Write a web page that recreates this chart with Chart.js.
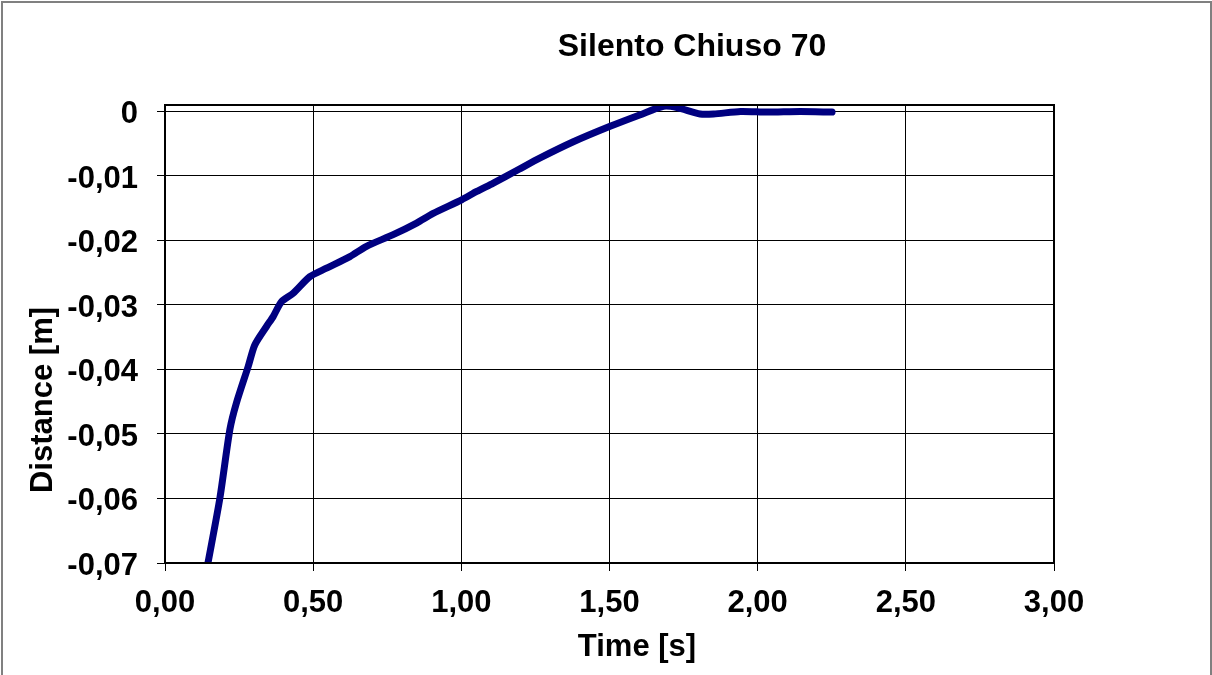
<!DOCTYPE html>
<html>
<head>
<meta charset="utf-8">
<script src="https://cdn.jsdelivr.net/npm/chart.js@4/dist/chart.umd.min.js"></script>
<style>
  html, body { margin: 0; padding: 0; background: #fff; }
  #wrap { width: 1212px; height: 675px; }
</style>
</head>
<body>
<div id="wrap"><canvas id="chart" width="1212" height="675"></canvas></div>
<script>
// values
const chartTitle = 'Silento Chiuso 70';
const xTitle = 'Time [s]';
const yTitle = 'Distance [m]';

const timeS = [0.145, 0.185, 0.219, 0.241, 0.281, 0.303, 0.343, 0.365, 0.393, 0.432,
               0.489, 0.545, 0.624, 0.680, 0.770, 0.849, 0.905, 1.001, 1.052, 1.108,
               1.193, 1.266, 1.378, 1.502, 1.604, 1.682, 1.728, 1.806, 1.851, 1.942,
               2.032, 2.144, 2.251];
const distM = [-0.0700, -0.0600, -0.0493, -0.0452, -0.0395, -0.0362, -0.0333, -0.0318, -0.0295, -0.0282,
               -0.0256, -0.0243, -0.0225, -0.0209, -0.0191, -0.0173, -0.0158, -0.0137, -0.0124, -0.0111,
               -0.0090, -0.0072, -0.0047, -0.0023, -0.0005, 0.0008, 0.0006, -0.0004, -0.0004, 0.0000,
               -0.0001, 0.0000, -0.0001];

const xTicks = [0, 0.5, 1, 1.5, 2, 2.5, 3];
const yTicks = [0, -0.01, -0.02, -0.03, -0.04, -0.05, -0.06, -0.07];

const FONT = "'Liberation Sans', Arial, sans-serif";

function comma(v, d) {
    if (v === 0 && d === 0) return '0';
    return v.toFixed(d).replace('.', ',');
}

// frame, plot box and free-placed titles
const decorPlugin = {
    id: 'decor',
    beforeDraw(chart) {
        const ctx = chart.ctx;
        ctx.save();
        ctx.fillStyle = '#fff';
        ctx.fillRect(0, 0, chart.width, chart.height);
        ctx.restore();
    },
    afterDraw(chart) {
        const ctx = chart.ctx;
        const a = chart.chartArea;
        ctx.save();
        ctx.strokeStyle = '#000';
        ctx.lineWidth = 2;
        ctx.strokeRect(a.left, a.top, a.right - a.left, a.bottom - a.top);

        ctx.strokeStyle = '#808080';
        ctx.lineWidth = 2;
        ctx.strokeRect(2, 2, chart.width - 3, chart.height + 20);

        ctx.fillStyle = '#000';
        ctx.textAlign = 'center';
        ctx.textBaseline = 'alphabetic';
        ctx.font = 'bold 32px ' + FONT;
        ctx.fillText(chartTitle, 692, 56);

        ctx.font = 'bold 31px ' + FONT;
        ctx.fillText(xTitle, 637, 656);

        ctx.translate(52, 400);
        ctx.rotate(-Math.PI / 2);
        ctx.fillText(yTitle, 0, 0);
        ctx.restore();
    }
};

new Chart(document.getElementById('chart'), {
    type: 'line',
    data: {
        datasets: [{
            data: timeS.map((t, i) => ({ x: t, y: distM[i] })),
            borderColor: '#000080',
            borderWidth: 7,
            borderCapStyle: 'round',
            borderJoinStyle: 'round',
            pointRadius: 0,
            tension: 0.25,
            fill: false
        }]
    },
    options: {
        responsive: false,
        animation: false,
        devicePixelRatio: 1,
        layout: { padding: { top: 105, right: 158, left: 0, bottom: 0 } },
        plugins: { legend: { display: false }, tooltip: { enabled: false }, title: { display: false } },
        scales: {
            x: {
                type: 'linear',
                min: 0,
                max: 3,
                afterFit(scale) { scale.height = 112; },
                afterBuildTicks(scale) { scale.ticks = xTicks.map(v => ({ value: v })); },
                grid: { color: '#000', lineWidth: 1, tickLength: 8, drawTicks: true },
                border: { display: false },
                ticks: {
                    color: '#000',
                    padding: 14,
                    maxRotation: 0,
                    font: { family: FONT, size: 31, weight: 'bold' },
                    callback: v => comma(v, 2)
                }
            },
            y: {
                type: 'linear',
                min: -0.07,
                max: 0.001,
                afterFit(scale) { scale.width = 165; },
                afterBuildTicks(scale) { scale.ticks = yTicks.map(v => ({ value: v })); },
                grid: { color: '#000', lineWidth: 1, tickLength: 8, drawTicks: true },
                border: { display: false },
                ticks: {
                    color: '#000',
                    padding: 19,
                    labelOffset: 3,
                    font: { family: FONT, size: 31, weight: 'bold' },
                    callback: v => comma(v, v === 0 ? 0 : 2)
                }
            }
        }
    },
    plugins: [decorPlugin]
});
</script>
</body>
</html>
